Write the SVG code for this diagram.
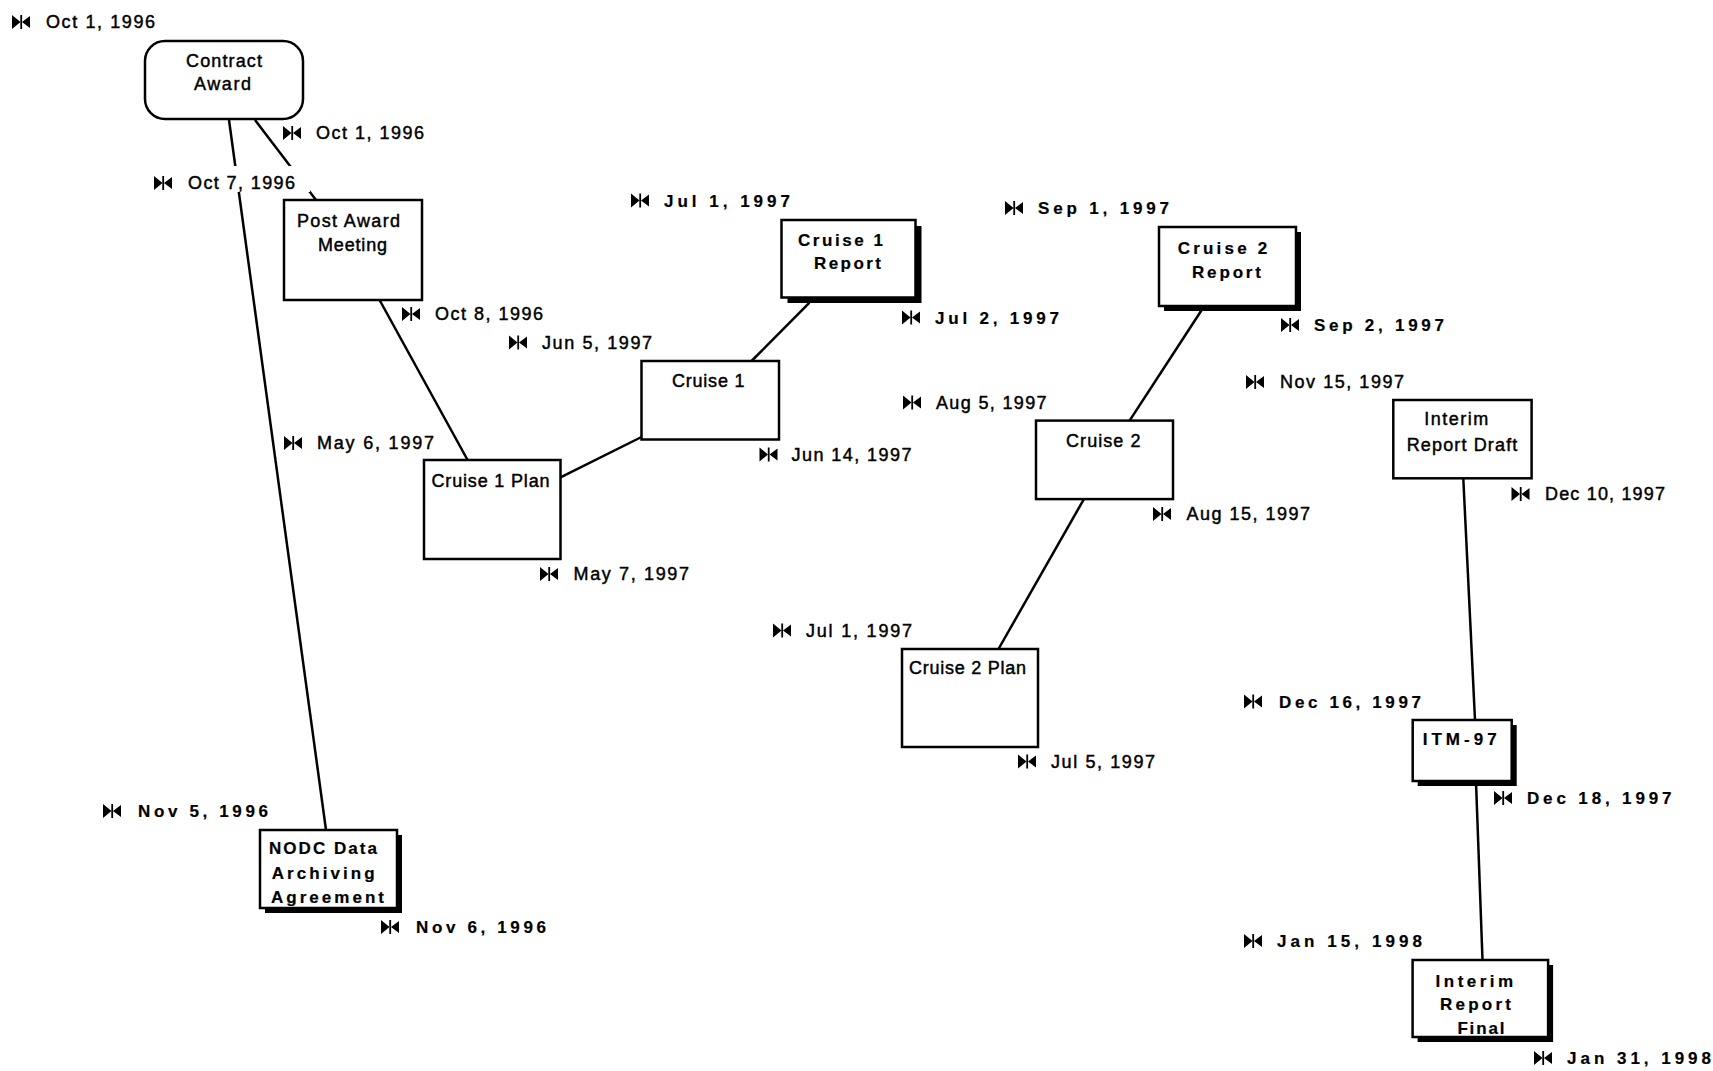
<svg xmlns="http://www.w3.org/2000/svg" xmlns:xlink="http://www.w3.org/1999/xlink" width="1713" height="1071" viewBox="0 0 1713 1071">
<style>
.bg{fill:#fff}
.box{fill:#fff;stroke:#000;stroke-width:2.5}
.sh{fill:#000}
.lbl{fill:#fff;stroke:none}
.t{font-family:"Liberation Sans",Arial,Helvetica,sans-serif;font-size:18px;fill:#000;stroke:#000;stroke-width:0.45}
.tb{font-family:"Liberation Sans",Arial,Helvetica,sans-serif;font-size:17px;font-weight:bold;fill:#000;stroke:#000;stroke-width:0.2}
.nb{font-family:"Liberation Sans",Arial,Helvetica,sans-serif;font-size:17px;font-weight:bold;fill:#000;stroke:#000;stroke-width:0.2}
.cn{stroke:#000;stroke-width:2.5;fill:none}
</style>
<defs>
<g id="ms">
<path d="M0,0 L0,14 L8.5,7 Z M18,1 L18,13 L10,7 Z" fill="#000"/>
<line x1="9.2" y1="0" x2="9.2" y2="14" stroke="#000" stroke-width="1.8"/>
</g>
</defs>
<rect class="bg" x="0" y="0" width="1713" height="1071"/>

<g id="connectors">
<line class="cn" x1="229" y1="120" x2="326" y2="830"/>
<line class="cn" x1="255" y1="120" x2="316" y2="200"/>
<line class="cn" x1="379" y1="299" x2="467.6" y2="460"/>
<line class="cn" x1="560.5" y1="477.4" x2="641.5" y2="437"/>
<line class="cn" x1="751.6" y1="361" x2="809.5" y2="302.6"/>
<line class="cn" x1="998.5" y1="649" x2="1083.8" y2="499.3"/>
<line class="cn" x1="1129.6" y1="420.6" x2="1201.7" y2="310"/>
<line class="cn" x1="1463.3" y1="478.5" x2="1475" y2="720"/>
<line class="cn" x1="1476" y1="782" x2="1482.5" y2="960"/>
</g>

<g id="contract-award">
<rect class="lbl" x="10" y="6" width="151" height="26"/>
<use xlink:href="#ms" x="12" y="15"/>
<text class="t" x="46" y="28" textLength="109" lengthAdjust="spacing">Oct 1, 1996</text>
<rect class="lbl" x="280" y="117" width="150" height="26"/>
<use xlink:href="#ms" x="283" y="126"/>
<text class="t" x="316" y="139" textLength="108" lengthAdjust="spacing">Oct 1, 1996</text>
<rect class="box" x="145" y="41" width="158" height="78" rx="20" ry="20"/>
<text class="t" x="186" y="67" textLength="76" lengthAdjust="spacing">Contract</text>
<text class="t" x="194" y="90" textLength="57" lengthAdjust="spacing">Award</text>
</g>

<g id="post-award-meeting">
<rect class="lbl" x="150" y="166" width="160" height="26"/>
<use xlink:href="#ms" x="154" y="176"/>
<text class="t" x="188" y="189" textLength="107" lengthAdjust="spacing">Oct 7, 1996</text>
<rect class="lbl" x="399" y="298" width="150" height="26"/>
<use xlink:href="#ms" x="402" y="307"/>
<text class="t" x="435" y="320" textLength="108" lengthAdjust="spacing">Oct 8, 1996</text>
<rect class="box" x="284" y="200" width="138" height="100"/>
<text class="t" x="297" y="227" textLength="103" lengthAdjust="spacing">Post Award</text>
<text class="t" x="318" y="251" textLength="69" lengthAdjust="spacing">Meeting</text>
</g>

<g id="nodc-data-archiving-agreement">
<rect class="lbl" x="100" y="795" width="172" height="26"/>
<use xlink:href="#ms" x="103" y="804"/>
<text class="tb" x="138" y="817" textLength="130" lengthAdjust="spacing">Nov 5, 1996</text>
<rect class="lbl" x="380" y="911" width="172" height="26"/>
<use xlink:href="#ms" x="381" y="920"/>
<text class="tb" x="416" y="933" textLength="130" lengthAdjust="spacing">Nov 6, 1996</text>
<rect class="sh" x="265" y="835" width="137" height="78"/>
<rect class="box" x="260" y="830" width="137" height="78"/>
<text class="nb" x="269" y="854" textLength="108" lengthAdjust="spacing">NODC Data</text>
<text class="nb" x="271.7" y="879" textLength="103" lengthAdjust="spacing">Archiving</text>
<text class="nb" x="271" y="903" textLength="113" lengthAdjust="spacing">Agreement</text>
</g>

<g id="cruise-1-plan">
<rect class="lbl" x="281" y="427" width="160" height="26"/>
<use xlink:href="#ms" x="284" y="436"/>
<text class="t" x="317" y="449" textLength="117" lengthAdjust="spacing">May 6, 1997</text>
<rect class="lbl" x="537" y="558" width="158" height="26"/>
<use xlink:href="#ms" x="540" y="567"/>
<text class="t" x="573.5" y="580" textLength="115.5" lengthAdjust="spacing">May 7, 1997</text>
<rect class="box" x="424" y="460" width="136.5" height="99"/>
<text class="t" x="431.5" y="487" textLength="118" lengthAdjust="spacing">Cruise 1 Plan</text>
</g>

<g id="cruise-1">
<rect class="lbl" x="506" y="326" width="152" height="26"/>
<use xlink:href="#ms" x="509" y="335.5"/>
<text class="t" x="542" y="348.5" textLength="110" lengthAdjust="spacing">Jun 5, 1997</text>
<rect class="lbl" x="756" y="438" width="162" height="26"/>
<use xlink:href="#ms" x="759.5" y="447.5"/>
<text class="t" x="791.5" y="460.5" textLength="120" lengthAdjust="spacing">Jun 14, 1997</text>
<rect class="box" x="641.5" y="361" width="137.5" height="78.5"/>
<text class="t" x="672" y="386.7" textLength="72.5" lengthAdjust="spacing">Cruise 1</text>
</g>

<g id="cruise-1-report">
<rect class="lbl" x="628" y="184" width="168" height="26"/>
<use xlink:href="#ms" x="631" y="193.5"/>
<text class="tb" x="664" y="206.5" textLength="126" lengthAdjust="spacing">Jul 1, 1997</text>
<rect class="lbl" x="899" y="301" width="166" height="26"/>
<use xlink:href="#ms" x="902" y="310.5"/>
<text class="tb" x="935" y="323.5" textLength="124" lengthAdjust="spacing">Jul 2, 1997</text>
<rect class="sh" x="787.5" y="226" width="134" height="77"/>
<rect class="box" x="781.5" y="220" width="134" height="77.5"/>
<text class="nb" x="798" y="245.5" textLength="85" lengthAdjust="spacing">Cruise 1</text>
<text class="nb" x="814" y="268.5" textLength="67" lengthAdjust="spacing">Report</text>
</g>

<g id="cruise-2-plan">
<rect class="lbl" x="770" y="614" width="148" height="26"/>
<use xlink:href="#ms" x="773" y="623.5"/>
<text class="t" x="806" y="636.5" textLength="106" lengthAdjust="spacing">Jul 1, 1997</text>
<rect class="lbl" x="1015" y="745" width="146" height="26"/>
<use xlink:href="#ms" x="1018" y="754.5"/>
<text class="t" x="1051" y="767.5" textLength="104" lengthAdjust="spacing">Jul 5, 1997</text>
<rect class="box" x="902" y="649" width="136" height="98"/>
<text class="t" x="909" y="674" textLength="117" lengthAdjust="spacing">Cruise 2 Plan</text>
</g>

<g id="cruise-2">
<rect class="lbl" x="900" y="386" width="152" height="26"/>
<use xlink:href="#ms" x="903" y="395.5"/>
<text class="t" x="936" y="408.5" textLength="110.5" lengthAdjust="spacing">Aug 5, 1997</text>
<rect class="lbl" x="1150" y="498" width="166" height="26"/>
<use xlink:href="#ms" x="1153" y="507"/>
<text class="t" x="1186.5" y="520" textLength="123.5" lengthAdjust="spacing">Aug 15, 1997</text>
<rect class="box" x="1036" y="420.6" width="137" height="78.5"/>
<text class="t" x="1066" y="446.5" textLength="74.5" lengthAdjust="spacing">Cruise 2</text>
</g>

<g id="cruise-2-report">
<rect class="lbl" x="1002" y="192" width="173" height="26"/>
<use xlink:href="#ms" x="1005" y="201"/>
<text class="tb" x="1038" y="214" textLength="131" lengthAdjust="spacing">Sep 1, 1997</text>
<rect class="lbl" x="1278" y="309" width="172" height="26"/>
<use xlink:href="#ms" x="1281" y="318"/>
<text class="tb" x="1314" y="331" textLength="130" lengthAdjust="spacing">Sep 2, 1997</text>
<rect class="sh" x="1164" y="232" width="137" height="79"/>
<rect class="box" x="1159" y="227" width="137" height="79"/>
<text class="nb" x="1177.7" y="253.5" textLength="89.6" lengthAdjust="spacing">Cruise 2</text>
<text class="nb" x="1192" y="278" textLength="69" lengthAdjust="spacing">Report</text>
</g>

<g id="interim-report-draft">
<rect class="lbl" x="1243" y="366" width="166" height="26"/>
<use xlink:href="#ms" x="1246" y="375"/>
<text class="t" x="1280" y="388" textLength="124" lengthAdjust="spacing">Nov 15, 1997</text>
<rect class="lbl" x="1509" y="478" width="162" height="26"/>
<use xlink:href="#ms" x="1511.5" y="487"/>
<text class="t" x="1545" y="500" textLength="120" lengthAdjust="spacing">Dec 10, 1997</text>
<rect class="box" x="1393.3" y="400" width="138.3" height="78.3"/>
<text class="t" x="1424.3" y="425" textLength="64" lengthAdjust="spacing">Interim</text>
<text class="t" x="1406.7" y="450.7" textLength="110.6" lengthAdjust="spacing">Report Draft</text>
</g>

<g id="itm-97">
<rect class="lbl" x="1241" y="686" width="184" height="26"/>
<use xlink:href="#ms" x="1244" y="694.5"/>
<text class="tb" x="1279" y="707.5" textLength="142" lengthAdjust="spacing">Dec 16, 1997</text>
<rect class="lbl" x="1491" y="783" width="186" height="26"/>
<use xlink:href="#ms" x="1494" y="791"/>
<text class="tb" x="1527" y="804" textLength="144.5" lengthAdjust="spacing">Dec 18, 1997</text>
<rect class="sh" x="1417.7" y="725" width="99" height="61"/>
<rect class="box" x="1412.7" y="720" width="99" height="61"/>
<text class="nb" x="1422.7" y="745" textLength="74" lengthAdjust="spacing">ITM-97</text>
</g>

<g id="interim-report-final">
<rect class="lbl" x="1241" y="926" width="186" height="26"/>
<use xlink:href="#ms" x="1244" y="934"/>
<text class="tb" x="1277" y="947" textLength="145" lengthAdjust="spacing">Jan 15, 1998</text>
<rect class="lbl" x="1531" y="1043" width="182" height="26"/>
<use xlink:href="#ms" x="1534" y="1051"/>
<text class="tb" x="1567" y="1064" textLength="144" lengthAdjust="spacing">Jan 31, 1998</text>
<rect class="sh" x="1417.6" y="965" width="135.5" height="77"/>
<rect class="box" x="1412.6" y="960" width="135.5" height="77"/>
<text class="nb" x="1435.6" y="986.5" textLength="77.6" lengthAdjust="spacing">Interim</text>
<text class="nb" x="1440" y="1009.5" textLength="71" lengthAdjust="spacing">Report</text>
<text class="nb" x="1457.4" y="1033.5" textLength="47" lengthAdjust="spacing">Final</text>
</g>
</svg>
